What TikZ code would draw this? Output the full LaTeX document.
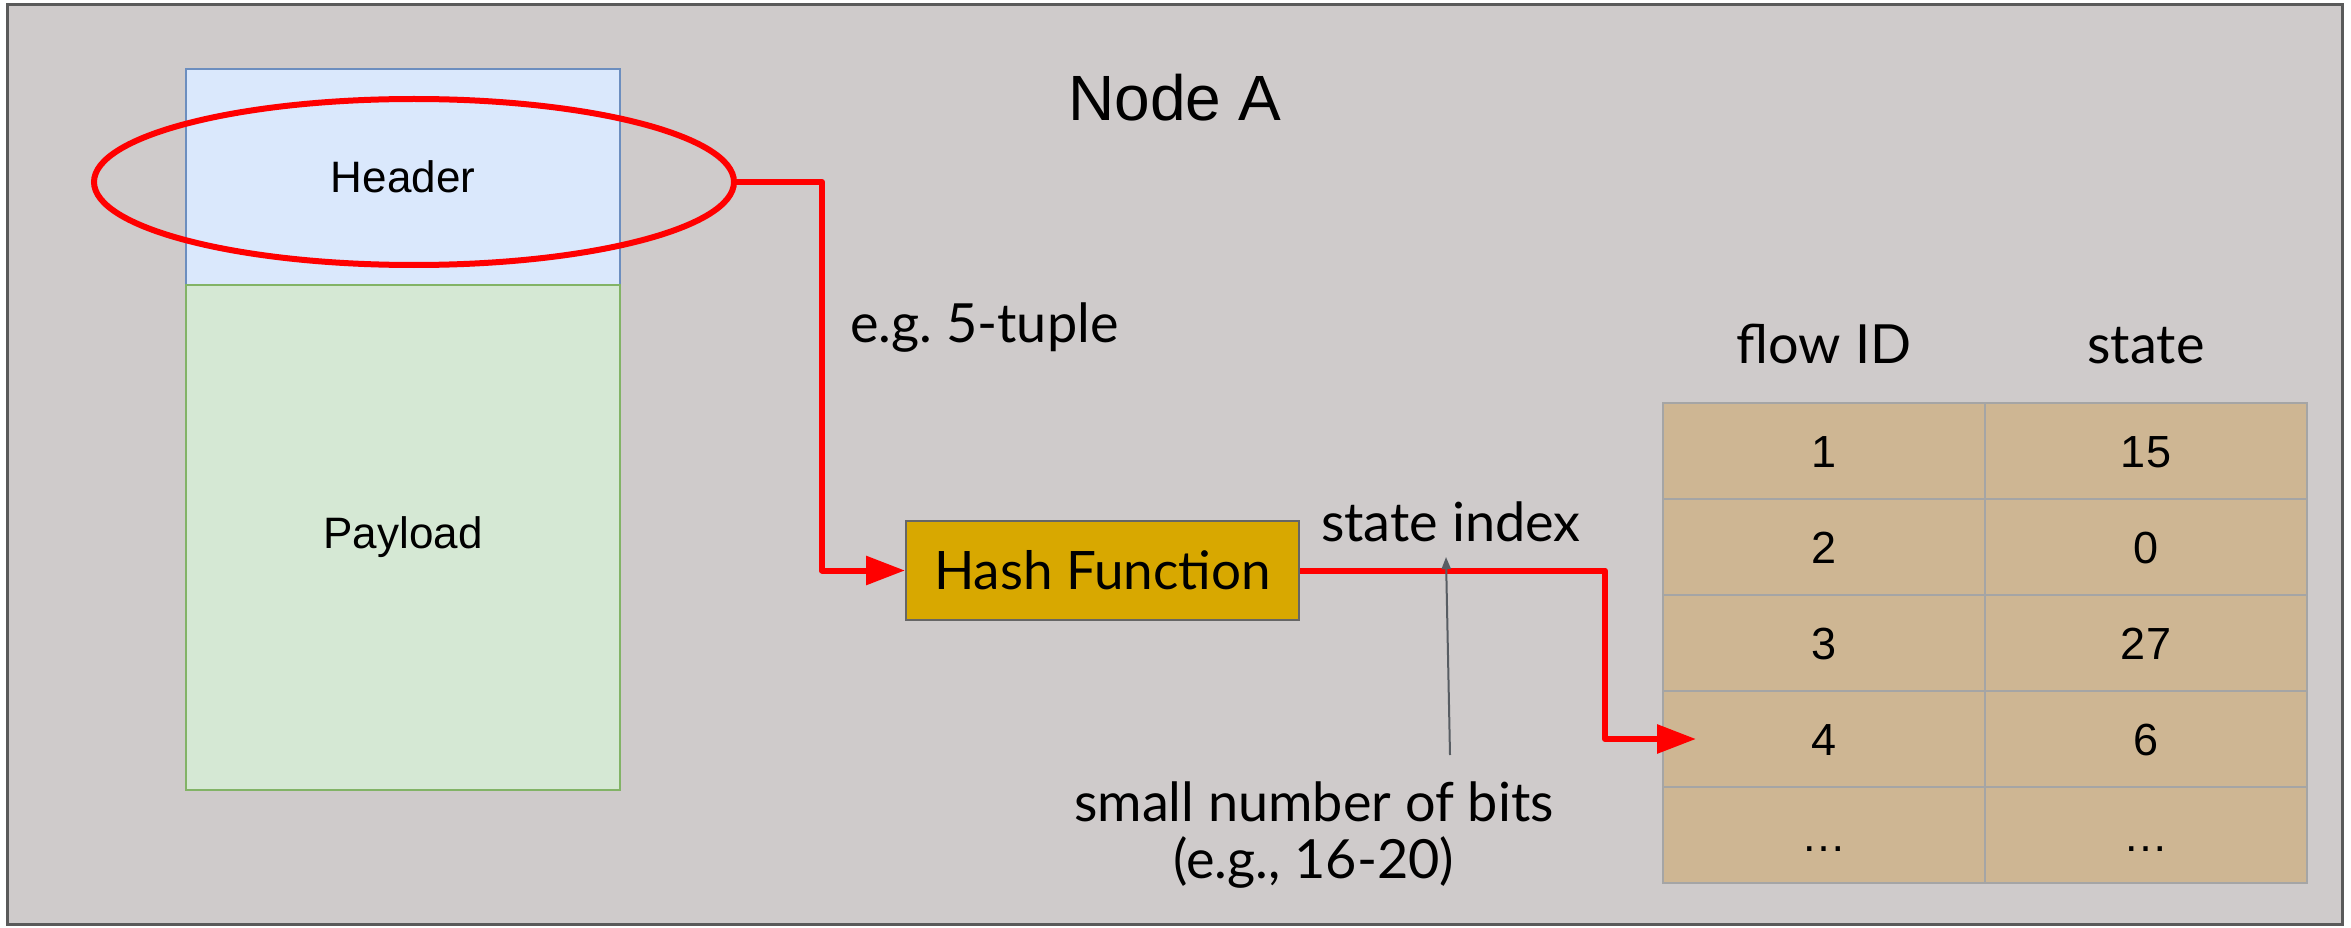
\documentclass[tikz,border=0pt]{standalone}
\usepackage{fontspec}
\setmainfont{Lato}
\newfontfamily\arialfont{Liberation Sans}
\usetikzlibrary{positioning,arrows.meta,shapes.geometric}

\definecolor{framebg}{HTML}{CFCBCB}
\definecolor{frameline}{HTML}{5A5A5A}
\definecolor{headerfill}{HTML}{DAE8FC}
\definecolor{headerline}{HTML}{6C8EBF}
\definecolor{payloadfill}{HTML}{D5E8D4}
\definecolor{payloadline}{HTML}{82B366}
\definecolor{hashfill}{HTML}{D8A800}
\definecolor{cellfill}{HTML}{CEB693}
\definecolor{cellline}{HTML}{A5A5A5}
\definecolor{pointergray}{HTML}{585D63}

\begin{document}
\begin{tikzpicture}[x=1pt, y=-1pt,
    packetnode/.style={rectangle, minimum width=434pt, line width=1.5pt, inner sep=0pt, outer sep=0pt, font=\arialfont\fontsize{44}{50}\selectfont},
    hashnode/.style={rectangle, draw=black!60, fill=hashfill, line width=2pt, minimum width=393pt, minimum height=99pt, font=\fontsize{53}{60}\selectfont},
    cellnode/.style={rectangle, draw=cellline, fill=cellfill, line width=2pt, minimum width=322pt, minimum height=96pt, outer sep=0pt, text height=32pt, text depth=0pt, font=\arialfont\fontsize{45}{50}\selectfont},
    textnode/.style={inner sep=0pt, font=\fontsize{54}{57}\selectfont},
    flowline/.style={red, line width=6pt, line join=round, -{Triangle[length=39pt,width=28pt]}},
]
\useasboundingbox (0,0) rectangle (2351,928);
\draw[frameline, fill=framebg, line width=3pt] (7,5) rectangle (2342,924);

%Nodes
\node[packetnode, draw=headerline, fill=headerfill, minimum height=216pt] (hdr) at (403,177) {Header};
\node[packetnode, draw=payloadline, fill=payloadfill, minimum height=505pt] (pld) [below=0pt of hdr] {Payload};
\node[ellipse, draw=red, line width=6pt, minimum width=640pt, minimum height=166pt, inner sep=0pt] (hl) at (414,182) {};

\node[textnode, font=\arialfont\fontsize{64}{70}\selectfont, anchor=base west] (title) at (1068,121) {Node A};
\node[textnode, anchor=base west] (tuple) at (850,342) {e.g.\ 5-tuple};

\node[hashnode] (hash) at (1102.5,570.5) {Hash Function};
\node[textnode, anchor=base west] (idx) at (1321,541) {state index};
\node[textnode, align=center, anchor=base] (bits) at (1314,878) {small number of bits\\(e.g., 16-20)};

\node[cellnode] (id1) at (1824,451) {1};
\node[cellnode] (id2) [below=0pt of id1] {2};
\node[cellnode] (id3) [below=0pt of id2] {3};
\node[cellnode] (id4) [below=0pt of id3] {4};
\node[cellnode] (id5) [below=0pt of id4] {…};

\node[cellnode] (st1) [right=0pt of id1] {15};
\node[cellnode] (st2) [right=0pt of id2] {0};
\node[cellnode] (st3) [right=0pt of id3] {27};
\node[cellnode] (st4) [right=0pt of id4] {6};
\node[cellnode] (st5) [right=0pt of id5] {…};

\node[textnode, anchor=base] (idhead) at ([yshift=40pt]id1.north) {flow ID};
\node[textnode, anchor=base] (sthead) at ([yshift=40pt]st1.north) {state};

\coordinate (ptail) at (1450,755);
\coordinate (phead) at (1446,557);

%Lines
\draw[flowline] (hl.east) -- ++(85,0) |- (hash.west);
\draw[flowline] (hash.east) -- ++(305,0) |- ([xshift=33pt]id4.west);
\draw[pointergray, line width=2pt, -{Triangle[length=12pt,width=9pt]}] (ptail) -- (phead);
\end{tikzpicture}
\end{document}
